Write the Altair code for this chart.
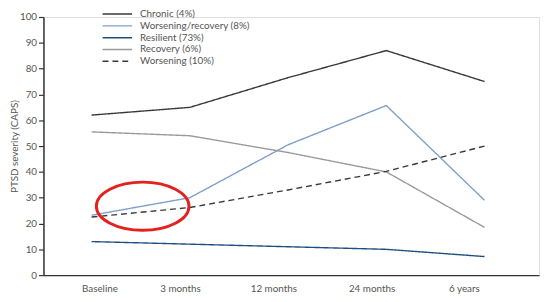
import altair as alt
import pandas as pd

# ---- data ----
timepoints = ["Baseline", "3 months", "12 months", "24 months", "6 years"]
series_names = ["Chronic (4%)", "Worsening/recovery (8%)", "Resilient (73%)",
                "Recovery (6%)", "Worsening (10%)"]
chronic = [62, 65, 76.5, 87, 75]
worsening_recovery = [23.2, 30, 50.5, 65.7, 29]
resilient = [13, 12, 11, 10, 7.2]
recovery = [55.5, 54, 47.5, 40, 18.5]
worsening = [22.5, 26.2, 33, 40.2, 50]
y_ticks = [0, 10, 20, 30, 40, 50, 60, 70, 80, 90, 100]

# styling
series_colors = ["#383838", "#7f9fcb", "#1f4f7f", "#9a9a9a", "#383838"]
series_dash = [[1, 0], [1, 0], [1, 0], [1, 0], [6, 4]]
label_positions = [0.08, 0.90, 1.85, 2.85, 3.79]

# annotation ellipse (centre in data units)
ellipse_x = [0.52]
ellipse_y = [26.7]

all_series = [chronic, worsening_recovery, resilient, recovery, worsening]
rows = []
for name, vals in zip(series_names, all_series):
    for i, (t, v) in enumerate(zip(timepoints, vals)):
        rows.append({"series": name, "idx": i, "time": t, "value": v})
df = pd.DataFrame(rows)
ell = pd.DataFrame({"ex": ellipse_x, "ey": ellipse_y})

FONT = "Lato"
TXT = "#555555"
AX = "#333333"
YTITLE = "PTSD severity (CAPS)"

label_list = "[" + ",".join("'" + t + "'" for t in timepoints) + "]"

x_scale = alt.Scale(domain=[-0.49, 4.555], nice=False, zero=False)
y_scale = alt.Scale(domain=[0, 100], nice=False)

x_axis = alt.Axis(values=label_positions,
                  labelExpr=label_list + "[round(datum.value)]",
                  ticks=False, grid=False, title=None,
                  domainColor=AX, domainWidth=1.5,
                  labelPadding=9, labelFontSize=10, labelColor=TXT,
                  labelFont=FONT)
y_axis = alt.Axis(values=y_ticks, tickCount=11, grid=False, title=YTITLE,
                  labelOverlap=False,
                  tickSize=5, tickColor=AX, tickWidth=1.2,
                  domainColor=AX, domainWidth=1.5,
                  labelPadding=2, labelFontSize=10, labelColor=TXT,
                  labelFont=FONT, titleFont=FONT, titleFontSize=10,
                  titleFontWeight="normal", titleColor=TXT,
                  titlePadding=0)

legend = alt.Legend(
    title=None, orient="none", legendX=69, legendY=-9,
    symbolType="M-3,0L3,0", symbolSize=100, symbolStrokeWidth=1.5,
    labelOffset=17, rowPadding=1, padding=0,
    labelFontSize=10, labelColor=TXT, labelFont=FONT,
)

lines = alt.Chart(df).mark_line(strokeWidth=1.4).encode(
    x=alt.X("idx:Q", scale=x_scale, axis=x_axis),
    y=alt.Y("value:Q", scale=y_scale, axis=y_axis),
    color=alt.Color("series:N", scale=alt.Scale(domain=series_names, range=series_colors),
                    legend=legend),
    strokeDash=alt.StrokeDash("series:N", scale=alt.Scale(domain=series_names, range=series_dash),
                              legend=legend),
)

ellipse = alt.Chart(ell).mark_point(
    shape="M-1,0A1,0.52,0,1,1,1,0A1,0.52,0,1,1,-1,0Z",
    filled=False, stroke="#e3221f", strokeWidth=3, size=8836, opacity=1,
).encode(
    x=alt.X("ex:Q", scale=x_scale, axis=x_axis),
    y=alt.Y("ey:Q", scale=y_scale, axis=y_axis),
)

chart = alt.layer(lines, ellipse).properties(
    width=503, height=262,
    padding={"left": 36, "top": 7, "right": 3, "bottom": 17},
    autosize=alt.AutoSizeParams(type="none"),
).configure_view(stroke=None).configure(font=FONT)

chart.save("out.html", embed_options={"renderer": "svg", "actions": False})
